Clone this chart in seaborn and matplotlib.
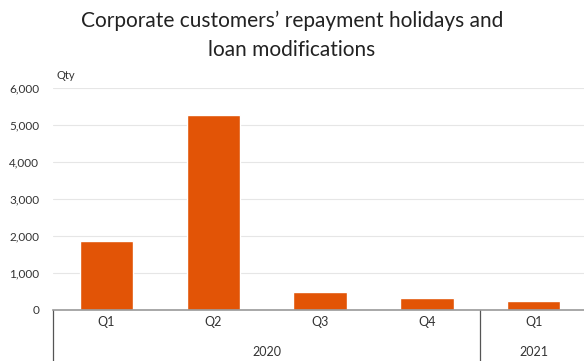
import matplotlib
matplotlib.use("Agg")
import matplotlib.pyplot as plt
import matplotlib.transforms as mtransforms
from matplotlib.ticker import FuncFormatter, MultipleLocator
import seaborn as sns
import pandas as pd

# Quarterly counts of repayment holidays / loan modifications
quarters = ["Q1", "Q2", "Q3", "Q4", "Q1"]
years = ["2020", "2020", "2020", "2020", "2021"]
values = [1870, 5270, 490, 330, 250]

year_groups = ["2020", "2021"]
period_ids = [f"{y} {q}" for y, q in zip(years, quarters)]

df = pd.DataFrame({"period": period_ids, "value": values})

sns.set_theme(style="white")
plt.rcParams["font.family"] = ["Lato", "DejaVu Sans"]

bar_color = "#E25406"
text_color = "#333333"

fig = plt.figure(figsize=(5.84, 3.61), dpi=100)
ax = fig.add_axes([0.0908, 0.1413, 0.9144, 0.6149])

sns.barplot(data=df, x="period", y="value", color=bar_color, width=0.5,
            saturation=1, ax=ax)

ax.set_xlim(-0.5, len(values) - 0.5)
ax.set_ylim(0, 6000)
ax.yaxis.set_major_locator(MultipleLocator(1000))
ax.yaxis.set_major_formatter(FuncFormatter(lambda v, _: f"{int(v):,}"))
ax.tick_params(axis="y", length=0, labelsize=8.5, labelcolor=text_color, pad=10)
ax.set_xticks([])
ax.set_xlabel("")
ax.set_ylabel("")

for y in range(1000, 6001, 1000):
    ax.axhline(y, color="#e6e6e6", lw=0.8, zorder=0)

for side in ["left", "right", "top"]:
    ax.spines[side].set_visible(False)
ax.spines["bottom"].set_color("#999999")
ax.spines["bottom"].set_linewidth(1.2)

ax.text(-0.47, 6180, "Qty", fontsize=8, color=text_color, ha="left", va="bottom")

# Two-level category axis: quarters above, years below
trans = mtransforms.blended_transform_factory(ax.transData, fig.transFigure)
for i, q in enumerate(quarters):
    ax.text(i, 1 - 322 / 361, q, transform=trans, ha="center", va="center",
            fontsize=9, color=text_color)

idx = 0
boundaries = [-0.5]
for yr in year_groups:
    n = years.count(yr)
    center = idx + (n - 1) / 2
    ax.text(center, 1 - 352 / 361, yr, transform=trans, ha="center",
            va="center", fontsize=9, color=text_color)
    idx += n
    boundaries.append(idx - 0.5)

for b in boundaries[:-1]:
    ax.plot([b, b], [1 - 310 / 361, 0], transform=trans, color="#555555",
            lw=0.9, clip_on=False)

fig.text(0.5, 1 - 35 / 361, "Corporate customers’ repayment holidays and\nloan modifications",
         ha="center", va="center", fontsize=15, color="#222222", linespacing=1.55)

fig.savefig("out.png", dpi=100)
